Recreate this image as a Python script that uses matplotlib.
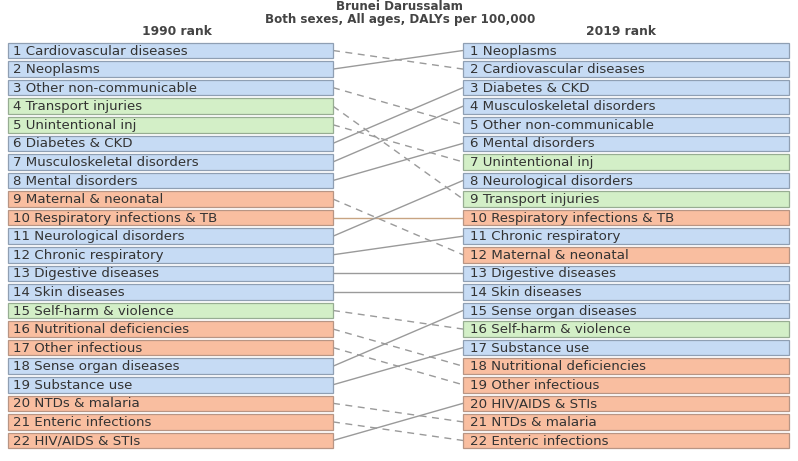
import matplotlib
matplotlib.use("Agg")
import matplotlib.pyplot as plt
from matplotlib.patches import Rectangle

title = "Brunei Darussalam"
subtitle = "Both sexes, All ages, DALYs per 100,000"
left_header = "1990 rank"
right_header = "2019 rank"

causes_1990 = ["Cardiovascular diseases", "Neoplasms", "Other non-communicable",
               "Transport injuries", "Unintentional inj", "Diabetes & CKD",
               "Musculoskeletal disorders", "Mental disorders", "Maternal & neonatal",
               "Respiratory infections & TB", "Neurological disorders", "Chronic respiratory",
               "Digestive diseases", "Skin diseases", "Self-harm & violence",
               "Nutritional deficiencies", "Other infectious", "Sense organ diseases",
               "Substance use", "NTDs & malaria", "Enteric infections", "HIV/AIDS & STIs"]
rank_2019 = [2, 1, 5, 9, 7, 3, 4, 6, 12, 10, 8, 11, 13, 14, 16, 18, 19, 15, 17, 21, 22, 20]
# cause group: N = non-communicable, I = injuries, C = communicable/maternal/nutritional
group = ["N", "N", "N", "I", "I", "N", "N", "N", "C", "C", "N", "N",
         "N", "N", "I", "C", "C", "N", "N", "C", "C", "C"]

fill = {"N": "#c6dbf4", "I": "#d3efc7", "C": "#f9bea0"}
edge = {"N": "#8f9fb3", "I": "#97ad92", "C": "#b89584"}

W, H = 798, 461
fig = plt.figure(figsize=(W / 100, H / 100), dpi=100)
ax = fig.add_axes([0, 0, 1, 1])
pitch = 18.57
y0 = 50.5
ax.set_xlim(0, W)
ax.set_ylim(1 + (H - y0) / pitch, 1 - y0 / pitch)
ax.axis("off")

lx0, lx1 = 8, 333
rx0, rx1 = 463, 789
bh = 0.84

for i, name in enumerate(causes_1990):
    r90 = i + 1
    r19 = rank_2019[i]
    g = group[i]
    ax.add_patch(Rectangle((lx0, r90 - bh / 2), lx1 - lx0, bh, facecolor=fill[g],
                           edgecolor=edge[g], lw=0.9, zorder=2))
    ax.text(lx0 + 5, r90 + 0.03, f"{r90} {name}", va="center", ha="left",
            fontsize=9.6, color="#333333", family="DejaVu Sans", zorder=3)
    ax.add_patch(Rectangle((rx0, r19 - bh / 2), rx1 - rx0, bh, facecolor=fill[g],
                           edgecolor=edge[g], lw=0.9, zorder=2))
    ax.text(rx0 + 7, r19 + 0.03, f"{r19} {name}", va="center", ha="left",
            fontsize=9.6, color="#333333", family="DejaVu Sans", zorder=3)
    if r19 > r90:
        ls = (0, (5, 4))
    else:
        ls = "-"
    col = "#c8a482" if (r19 == r90 and g == "C") else "#9a9a9a"
    ax.plot([lx1, rx0], [r90, r19], color=col, lw=1.0, linestyle=ls, zorder=1)

fig.text(400 / W, 1 - 7 / H, title, ha="center", va="center", fontsize=8.6,
         fontweight="bold", color="#444444")
fig.text(400 / W, 1 - 19.5 / H, subtitle, ha="center", va="center", fontsize=8.6,
         fontweight="bold", color="#444444")
fig.text(177 / W, 1 - 31.5 / H, left_header, ha="center", va="center", fontsize=8.8,
         fontweight="bold", color="#444444")
fig.text(621 / W, 1 - 31.5 / H, right_header, ha="center", va="center", fontsize=8.8,
         fontweight="bold", color="#444444")

fig.savefig("out.png", dpi=100, facecolor="white")
